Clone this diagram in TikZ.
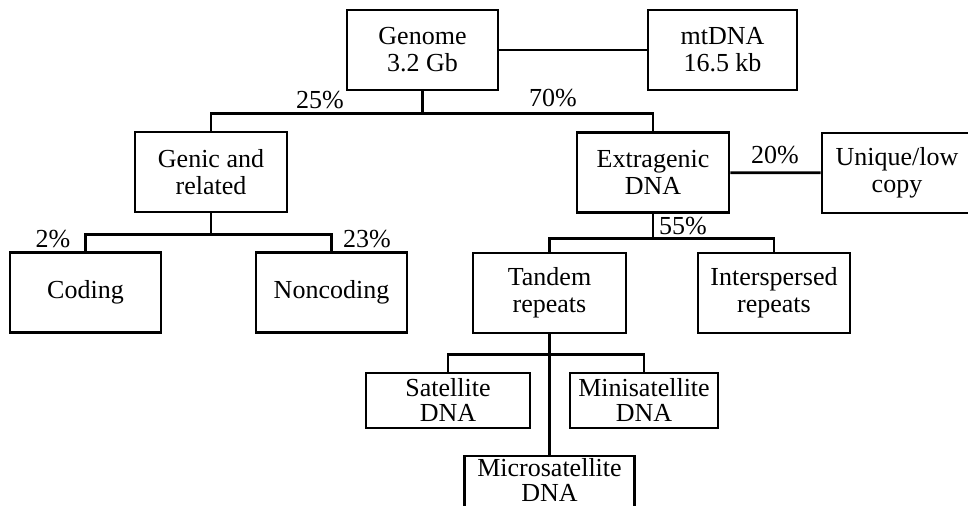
\documentclass[tikz,border=0pt]{standalone}
\usepackage{fontspec}
\setmainfont{Liberation Serif}
\usepackage{tikz}

\begin{document}
\begin{tikzpicture}[
		x=0.5pt, y=-0.5pt,
		box/.style={draw, line width=1.4pt, minimum width=#1*0.5pt, minimum height=40pt, align=center, inner sep=1pt, font=\fontsize{13}{13.5}\selectfont},
		box/.default=151,
		smallbox/.style={box=#1, minimum height=27.5pt, font=\fontsize{13}{12.5}\selectfont},
		link/.style={line width=1.4pt},
		pct/.style={font=\fontsize{13}{13.5}\selectfont, inner sep=0pt}
		]
		
		\useasboundingbox (0,0) rectangle (968,506);
		\clip (0,0) rectangle (968,506);
		
		% top level
		\node[box=151] (Genome) at (422.5,50) {Genome\\ 3.2 Gb};
		\node[box=149] (mtDNA) at (722.5,50) {mtDNA\\ 16.5 kb};
		
		% second level
		\node[box=152] (Genic) at (211,172) {Genic and\\ related};
		\node[box=152] (Extra) at (653,172.5) {Extragenic\\ DNA};
		\node[box=150] (Unique) at (897,173) {Unique/low\\ copy};
		
		% third level
		\node[box=151] (Coding) at (85.5,292.5) {Coding};
		\node[box=151] (Noncoding) at (331.5,292.5) {Noncoding};
		\node[box=153] (Tandem) at (549.5,293) {Tandem\\ repeats};
		\node[box=152] (Inter) at (774,293) {Interspersed\\ repeats};
		
		% tandem repeats
		\node[smallbox=164] (Sat) at (448,400.5) {Satellite\\ DNA};
		\node[smallbox=148] (Mini) at (644,400.5) {Minisatellite\\ DNA};
		\node[smallbox=170, text depth=4pt] (Micro) at (549.5,483.5) {Microsatellite\\ DNA};
		
		\draw[link] (Genome) -- (mtDNA);
		\draw[link] (Genome.south) -- ++(0,22) coordinate (gj);
		\draw[link] (Genic.north) |- (gj) -| (Extra.north);
		
		\draw[link] (Genic.south) -- ++(0,21) coordinate (cj);
		\draw[link] (Coding.north) |- (cj) -| (Noncoding.north);
		
		\draw[link] (Extra) -- (Unique);
		\draw[link] (Extra.south) -- ++(0,25) coordinate (ej);
		\draw[link] (Tandem.north) |- (ej) -| (Inter.north);
		
		\draw[link] (Tandem.south) -- ++(0,20) coordinate (tj);
		\draw[link] (Sat.north) |- (tj) -| (Mini.north);
		\draw[link] (Tandem.south) -- (Micro.north);
		
		% percentages
		\node[pct] (p25) at (320,100) {25\%};
		\node[pct] (p70) at (553,98) {70\%};
		\node[pct] (p2) at (53,239) {2\%};
		\node[pct] (p23) at (367,239) {23\%};
		\node[pct] (p20) at (775,155) {20\%};
		\node[pct] (p55) at (683,226) {55\%};
		
	\end{tikzpicture}
\end{document}
